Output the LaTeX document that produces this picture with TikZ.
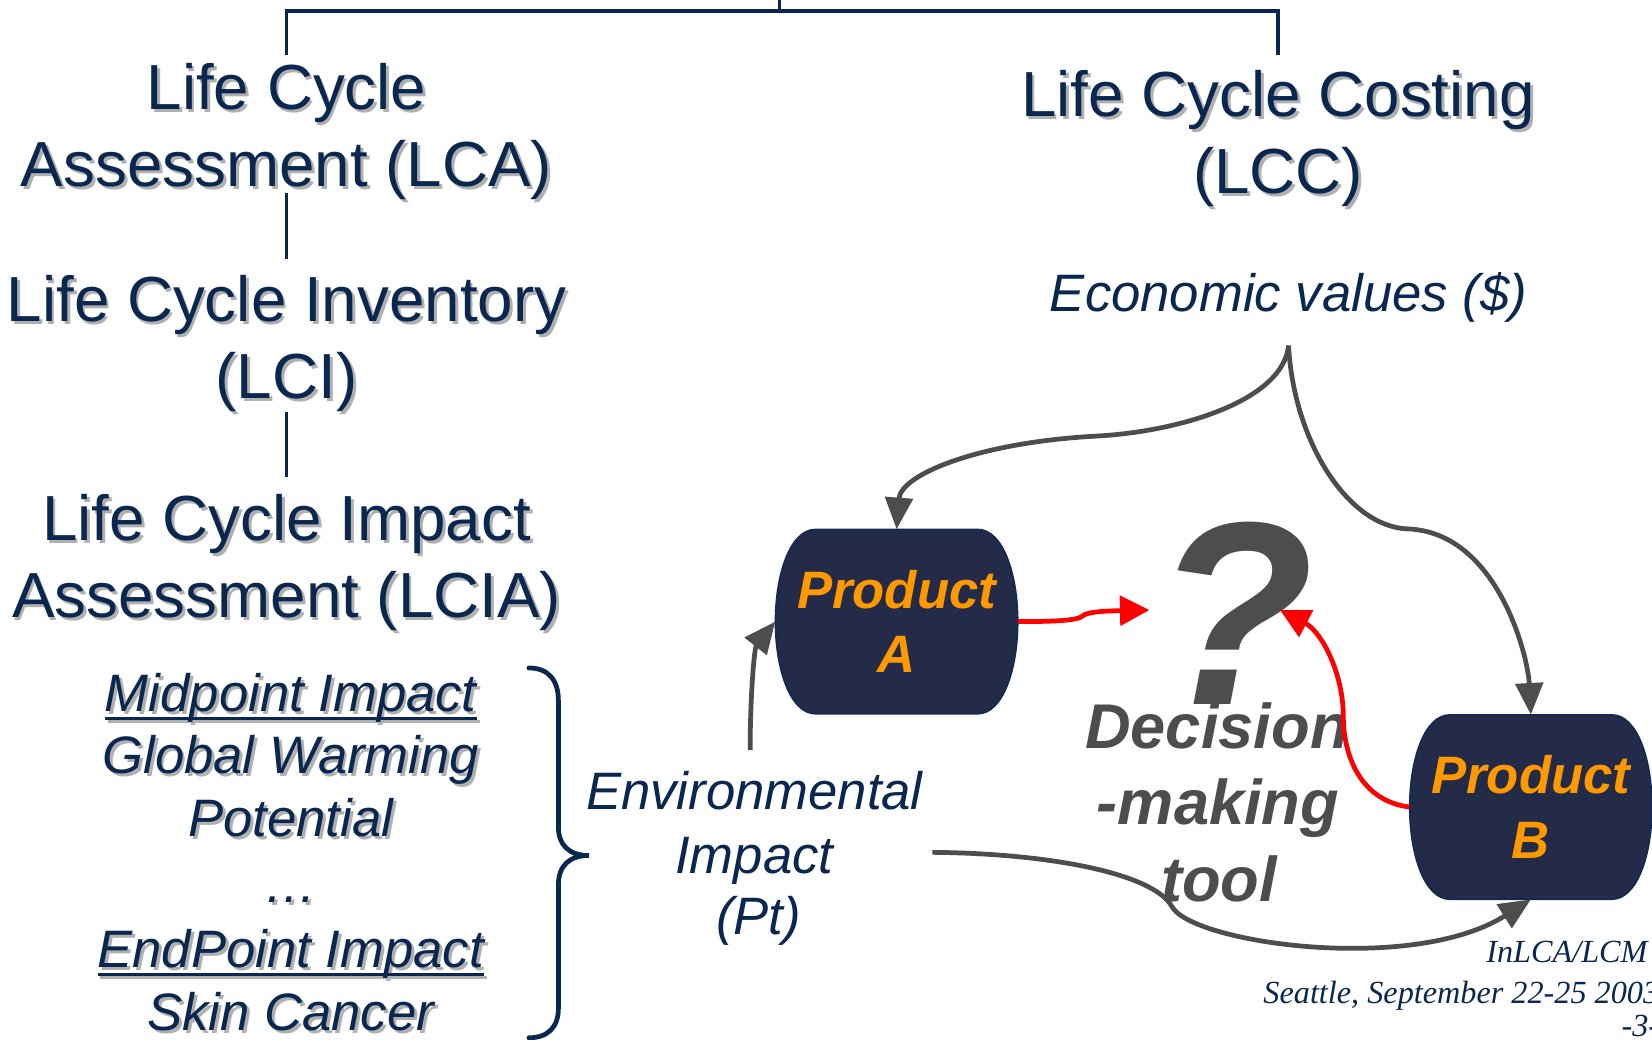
\documentclass[tikz,border=0pt]{standalone}
\usepackage{fontspec}
\setmainfont{Liberation Sans}
\newfontfamily\footserif{Liberation Serif}
\usetikzlibrary{arrows.meta}

\definecolor{navy}{HTML}{0A2750}
\definecolor{txtshadow}{HTML}{B0B0B0}
\definecolor{boxfill}{HTML}{232B49}
\definecolor{boxedge}{HTML}{102A55}
\definecolor{prodorange}{HTML}{FF9900}
\definecolor{arrowgray}{HTML}{4D4D4D}
\definecolor{arrowred}{HTML}{FF0000}

\newsavebox\ulbox
% thick underline for the impact headings
\newcommand\ulword[1]{\sbox\ulbox{#1}\rlap{\rule[-8.4pt]{\wd\ulbox}{2.8pt}}\usebox\ulbox}

% one line of text with a soft grey drop shadow
\newcommand\shline[4]{%
  \node[#3,dropshadow] at (#2) {#4};
  \node[#3] (#1) at (#2) {#4};}

% barrel outline, relative to the centre of the product node
\newcommand\bp[2]{([shift={(#1,#2)}]path picture bounding box.center)}

\tikzset{
  treeline/.style={draw=navy, line width=3.5pt},
  bracestyle/.style={draw=navy, line width=4.5pt, line cap=round},
  title/.style={anchor=base, inner sep=0pt, text=navy, font=\fontsize{60.5}{72}\selectfont},
  itemtext/.style={anchor=base, inner sep=0pt, text=navy, font=\fontsize{50}{60}\selectfont\itshape},
  dropshadow/.style={text=txtshadow, xshift=2.7pt, yshift=-2.7pt},
  product/.style={rectangle, minimum width=233pt, minimum height=178pt, inner sep=0pt,
    align=center, text=prodorange, font=\fontsize{50}{61}\selectfont\bfseries\itshape,
    path picture={
      \filldraw[fill=boxfill, draw=boxedge, line width=1.5pt]
        \bp{-77}{-87.5} -- \bp{77}{-87.5}
        .. controls \bp{101}{-87.5} and \bp{115}{-45} .. \bp{115}{0}
        .. controls \bp{115}{45} and \bp{101}{87.5} .. \bp{77}{87.5}
        -- \bp{-77}{87.5}
        .. controls \bp{-101}{87.5} and \bp{-115}{45} .. \bp{-115}{0}
        .. controls \bp{-115}{-45} and \bp{-101}{-87.5} .. \bp{-77}{-87.5} -- cycle;
    }},
  toolword/.style={anchor=base, inner sep=0pt, text=arrowgray, font=\fontsize{60}{72}\selectfont\bfseries\itshape},
  qmark/.style={anchor=base, inner sep=0pt, text=arrowgray, font=\fontsize{248}{248}\selectfont\bfseries\itshape},
  foot/.style={anchor=base east, inner sep=0pt, text=navy, font=\fontsize{30.6}{36}\selectfont\footserif\itshape},
  grayarrow/.style={draw=arrowgray, line width=4.5pt, -{Triangle[length=30pt,width=26pt]}},
  redarrow/.style={draw=arrowred, line width=4.5pt, -{Triangle[length=28pt,width=28pt]}},
}

\begin{document}
\begin{tikzpicture}[x=1pt,y=-1pt]
\useasboundingbox[fill=white] (0,0) rectangle (1568,987);

% ---- LCA branch
\shline{lca1}{272,104}{title}{Life Cycle}
\shline{lca2}{272,177}{title}{Assessment (LCA)}
\shline{lci1}{272,305}{title}{Life Cycle Inventory}
\shline{lci2}{272,378}{title}{(LCI)}
\shline{lcia1}{272,513}{title}{Life Cycle Impact}
\shline{lcia2}{272,586}{title}{Assessment (LCIA)}

% ---- LCC branch
\shline{lcc1}{1213,111}{title}{Life Cycle Costing}
\shline{lcc2}{1213,184}{title}{(LCC)}

% ---- tree connectors
\coordinate (root) at (740,0);
\coordinate (bar) at (740,10.5);
\draw[treeline] (root) -- (bar);
\draw[treeline] ([yshift=8pt]lca1.north) |- (bar) -| ([yshift=15pt]lcc1.north);
\draw[treeline] ([yshift=-6pt]lca2.base) -- ([yshift=15pt]lci1.north);
\draw[treeline] (lci2.south) -- ([yshift=16pt]lcia1.north);

% ---- impact categories
\shline{mid}{276,675}{itemtext}{\ulword{Midpoint Impact}}
\shline{gw1}{276,734}{itemtext}{Global Warming}
\shline{gw2}{276,794}{itemtext}{Potential}
\shline{dots}{276,857}{itemtext}{…}
\shline{endp}{276,918}{itemtext}{\ulword{EndPoint Impact}}
\shline{skin}{276,978}{itemtext}{Skin Cancer}

% ---- brace grouping the categories
\draw[bracestyle] (502,634) .. controls (520,634) and (530,645) .. (530,665)
  -- (530,785) .. controls (530,802) and (540,812) .. (559,812)
  .. controls (540,812) and (530,822) .. (530,840)
  -- (530,957) .. controls (530,975) and (520,985) .. (502,985);

% ---- environmental impact
\node[itemtext] (env1) at (716,768) {Environmental};
\node[itemtext] (env2) at (716,829) {Impact};
\node[itemtext] (env3) at (720,887) {(Pt)};

% ---- economic values
\node[itemtext] (econ) at (1223,296) {Economic values (\$)};

% ---- products
\node[product] (pa) at (851,590) {Product\\A};
\node[product] (pb) at (1453,766) {Product\\B};

% ---- decision-making tool
\node[qmark] (q) at (1172,669) {?};
\node[toolword] (dm1) at (1155,710) {Decision};
\node[toolword] (dm2) at (1156,783) {-making};
\node[toolword] (dm3) at (1157,856) {tool};

% ---- grey flows
\coordinate (fork) at ([yshift=-32pt]econ.base);
\coordinate (envup) at (712,712);
\coordinate (envout) at (885,809);
\draw[grayarrow] (fork) .. controls (1218,380) and (1120,410) .. (1039,414)
  .. controls (930,420) and (855,450) .. ([yshift=-1.5pt]pa.north);
\draw[grayarrow] (fork) .. controls (1228,420) and (1280,500) .. (1336,502)
  .. controls (1420,505) and (1450,620) .. ([yshift=-1.5pt]pb.north);
\draw[grayarrow] (envup) .. controls (712,660) and (716,615) .. ([xshift=1.5pt]pa.west);
\draw[grayarrow] (envout) .. controls (1000,810) and (1095,830) .. (1112,860)
  .. controls (1130,895) and (1340,925) .. ([yshift=1.5pt]pb.south);

% ---- red flows into the decision
\coordinate (qa) at (1091,579);
\coordinate (qb) at (1215,579);
\draw[redarrow] ([xshift=-1.5pt]pa.east) .. controls (1000,590) and (1022,589) .. (1027,585)
  .. controls (1031,581) and (1045,580) .. (qa);
\draw[redarrow] ([xshift=1.5pt]pb.west) .. controls (1290,760) and (1275,715) .. (1275,680)
  .. controls (1275,640) and (1255,600) .. (qb);

% ---- footer
\node[foot] (f1) at (1564,914) {InLCA/LCM};
\node[foot] (f2) at (1575,952) {Seattle, September 22-25 2003};
\node[foot] (f3) at (1575,984) {-3-};
\end{tikzpicture}
\end{document}
